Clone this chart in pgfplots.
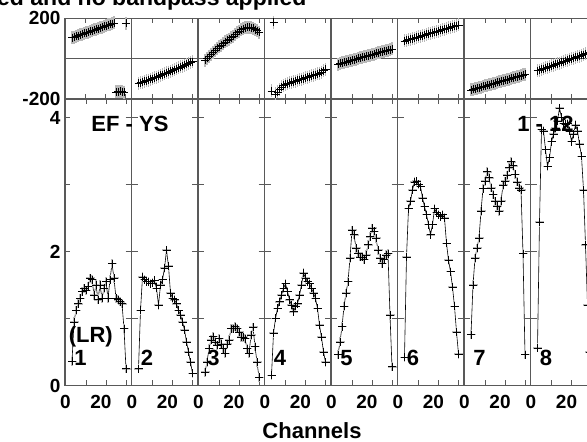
\documentclass[border=0pt]{standalone}
\usepackage{fontspec}
\setmainfont{Liberation Sans}
\usepackage{pgfplots}
\usepackage{pgfplotstable}
\pgfplotsset{compat=1.18}

\pgfplotstableread{
ch a1 a2 a3 a4 a5 a6 a7 a8 p1 p2 p3 p4 p5 p6 p7 p8
3 0.36 0.25 0.20 0.15 0.46 0.42 0.76 0.56 104 -122 -8 -160 -27 88 -155 -60
4 0.95 1.12 0.35 0.78 0.65 1.92 1.50 2.44 107 -119 2 180 -24 91 -152 -57
5 1.12 1.62 0.55 1.00 0.88 2.64 1.90 3.82 111 -116 12 -175 -21 94 -149 -53
6 1.22 1.58 0.68 1.15 1.18 2.75 2.05 3.80 114 -113 22 -165 -19 97 -146 -50
7 1.30 1.55 0.73 1.25 1.38 2.92 2.20 3.52 118 -110 32 -152 -16 99 -144 -46
8 1.40 1.55 0.65 1.35 1.55 3.04 2.60 3.27 121 -106 42 -140 -13 102 -141 -43
9 1.45 1.52 0.60 1.45 1.90 3.05 2.94 3.40 125 -103 51 -132 -10 105 -138 -39
10 1.42 1.53 0.70 1.52 2.32 3.00 3.05 3.64 128 -99 60 -127 -8 108 -135 -36
11 1.48 1.57 0.62 1.40 2.25 2.97 3.19 3.75 132 -95 67 -124 -5 111 -132 -32
12 1.60 1.45 0.55 1.28 2.05 2.80 3.10 3.84 135 -91 75 -120 -2 114 -129 -29
13 1.58 1.20 0.48 1.20 1.97 2.67 2.95 3.95 139 -87 83 -117 1 117 -127 -25
14 1.35 1.50 0.62 1.10 1.92 2.55 2.85 4.14 142 -83 90 -114 4 120 -124 -22
15 1.50 1.58 0.68 1.18 1.92 2.40 2.75 4.00 146 -79 96 -111 6 123 -121 -18
16 1.28 1.75 0.85 1.22 1.88 2.25 2.68 3.91 149 -75 104 -108 9 126 -118 -15
17 1.50 2.02 0.85 1.35 1.95 2.40 2.60 3.90 153 -71 112 -105 12 129 -115 -11
18 1.30 1.78 0.88 1.50 2.10 2.64 2.75 3.91 156 -67 120 -102 15 132 -112 -8
19 1.45 1.38 0.85 1.68 2.22 2.58 2.99 3.80 160 -63 128 -99 17 134 -109 -4
20 1.55 1.30 0.80 1.60 2.35 2.55 3.05 3.64 163 -59 137 -95 20 137 -107 -1
21 1.30 1.28 0.72 1.55 2.30 2.52 3.14 3.75 167 -54 143 -92 23 140 -104 3
22 1.58 1.22 0.72 1.52 2.20 2.55 3.25 3.89 170 -50 148 -89 26 143 -101 6
23 1.82 1.12 0.70 1.45 2.02 2.50 3.34 3.80 174 -46 152 -85 29 146 -98 10
24 1.60 1.05 0.55 1.38 1.90 2.12 3.28 3.60 177 -41 155 -82 31 149 -95 13
25 1.30 0.95 0.48 1.30 1.82 1.87 3.15 3.42 -165 -37 156 -79 34 152 -92 17
26 1.28 0.83 0.75 1.15 1.88 1.70 3.04 2.92 -163 -33 154 -76 37 155 -90 20
27 1.25 0.65 0.87 0.90 1.95 1.47 2.95 2.10 -162 -28 150 -72 40 158 -87 24
28 1.22 0.50 0.58 0.72 1.97 1.18 2.92 1.20 -164 -24 144 -68 42 161 -84 27
29 0.85 0.35 0.35 0.50 1.05 0.80 1.97 0.50 -166 -19 138 -60 45 164 -81 31
30 0.25 0.18 0.12 0.35 0.28 0.47 0.46 0.30 175 -15 131 -52 48 167 -78 34
}\data

\pgfplotsset{
  panel/.style={
    scale only axis, anchor=south west,
    x=2pt, xmin=0, xmax=266,
    axis line style={black!65, line width=1.2pt},
    tick style={black!65, line width=1pt},
    tick align=inside, major tick length=5pt,
    xtick={10.5,20.5,30.5,43.75,53.75,63.75,77,87,97,110.25,120.25,130.25,143.5,153.5,163.5,176.75,186.75,196.75,210,220,230,243.25,253.25,263.25},
    xticklabels={},
    ticklabel style={font=\fontsize{19}{19}\selectfont\bfseries},
    yticklabel style={xshift=-1pt},
    extra x ticks={33.25,66.5,99.75,133,166.25,199.5,232.75},
    extra x tick labels={},
    extra x tick style={grid=major, major grid style={black!65, line width=1.2pt}, major tick length=0pt},
    clip=false,
  },
  greyA/.style={forget plot, only marks, mark=+, mark size=4.5pt, gray!55,
    mark options={line width=1.6pt}},
  greyP/.style={forget plot, only marks, mark=|, mark size=6.5pt, gray!55,
    mark options={line width=1.6pt}},
  ampline/.style={black, line width=0.6pt, mark=+, mark size=4pt, mark options={line width=0.6pt}},
  phmark/.style={black, only marks, mark=+, mark size=4pt, mark options={line width=0.7pt}},
}

\begin{document}
\begin{tikzpicture}
% amplitude panel
\begin{axis}[panel, at={(65pt,56.5pt)}, y=67pt,
  ymin=0, ymax=4.276,
  ytick={0,1,2,3,4}, yticklabels={0,,2,,4},
]
\foreach \k/\c in {0/a1,1/a2,2/a3,3/a4,4/a5,5/a6,6/a7,7/a8}{
  \edef\off{\fpeval{33.25*\k+0.5}}
  \edef\doplot{\noexpand\addplot[greyA] table[x expr=\noexpand\thisrow{ch}+\off, y=\c]{\noexpand\data};
    \noexpand\addplot[ampline] table[x expr=\noexpand\thisrow{ch}+\off, y=\c]{\noexpand\data};}
  \doplot
}
\end{axis}
% phase panel
\begin{axis}[panel, at={(65pt,343pt)}, y=0.20175pt,
  ymin=-200, ymax=200,
  ytick={-200,0,200}, yticklabels={-200,,200},
  ymajorgrids, major grid style={black!65, line width=1pt},
]
\foreach \k/\c in {0/p1,1/p2,2/p3,3/p4,4/p5,5/p6,6/p7,7/p8}{
  \edef\off{\fpeval{33.25*\k+0.5}}
  \edef\doplot{\noexpand\addplot[greyP] table[x expr=\noexpand\thisrow{ch}+\off, y=\c]{\noexpand\data};
    \noexpand\addplot[phmark] table[x expr=\noexpand\thisrow{ch}+\off, y=\c]{\noexpand\data};}
  \doplot
}
\end{axis}
% ticks crossing the panel dividers
\foreach \k in {1,...,7}{
  \foreach \a in {1,2,3,4}{
    \draw[black!65, line width=1pt] ({(65+66.5*\k-6)*1pt},{(56.5+67*\a)*1pt}) -- ++(12pt,0);
  }
}
% texts
\node[anchor=base west, inner sep=0, font=\fontsize{23}{23}\selectfont\bfseries] at (-3pt,436pt) {ed and no bandpass applied};
\node[anchor=base, inner sep=0, font=\fontsize{22}{22}\selectfont\bfseries] at (312pt,3.5pt) {Channels};
\node[anchor=base, inner sep=0, font=\fontsize{22}{22}\selectfont\bfseries] at (130pt,310.4pt) {EF - YS};
\node[anchor=base, inner sep=0, font=\fontsize{22}{22}\selectfont\bfseries] at (545.5pt,310.8pt) {1 - 12};
\node[anchor=base, inner sep=0, font=\fontsize{22}{22}\selectfont\bfseries] at (90.8pt,99pt) {(LR)};
\foreach \k in {1,...,8}{
  \node[anchor=base, inner sep=0, font=\fontsize{22}{22}\selectfont\bfseries] at ({(65+66.5*(\k-1)+15.5)*1pt},76.6pt) {\k};
  \node[anchor=base, inner sep=0, font=\fontsize{19}{19}\selectfont\bfseries] at ({(65+66.5*(\k-1)+0.5)*1pt},33pt) {0};
  \node[anchor=base, inner sep=0, font=\fontsize{19}{19}\selectfont\bfseries] at ({(65+66.5*(\k-1)+36)*1pt},33pt) {20};
}
\pgfresetboundingbox
\path[use as bounding box] (0pt,0pt) rectangle (587pt,442pt);
\end{tikzpicture}
\end{document}
